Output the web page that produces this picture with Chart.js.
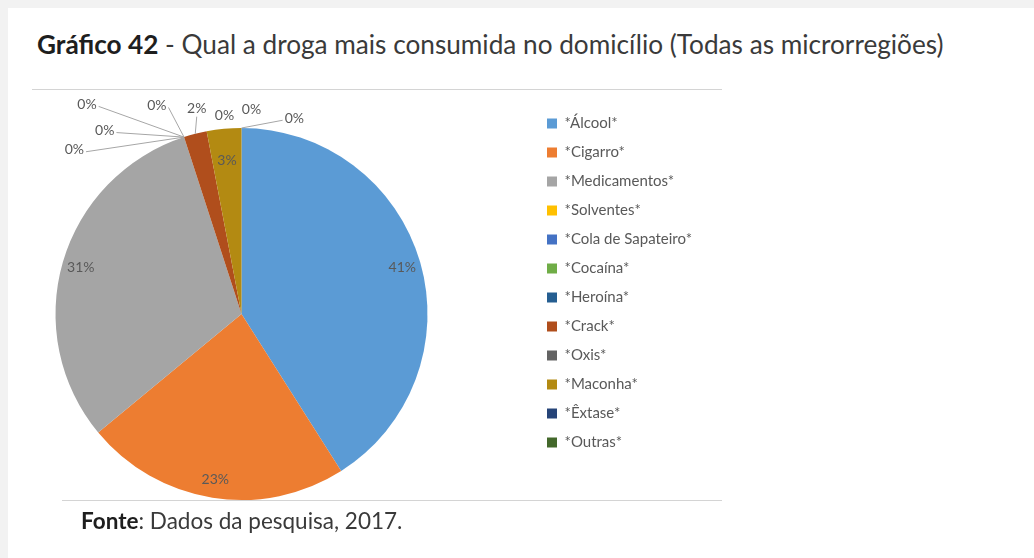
<!DOCTYPE html>
<html>
<head>
<meta charset="utf-8">
<script src="https://cdn.jsdelivr.net/npm/chart.js@4.4.0/dist/chart.umd.min.js"></script>
<style>
  body { margin: 0; background: #f2f2f2; width: 1034px; height: 558px; overflow: hidden; position: relative; font-family: Lato, "Open Sans", sans-serif; }
  #sheet { position: absolute; left: 8px; top: 8px; right: 0; bottom: 0; background: #fff; }
  #title { position: absolute; left: 37px; top: 29px; font-size: 26.2px; line-height: 30px; color: #3a3a3a; white-space: nowrap; }
  #title b { color: #1e1e1e; }
  .rule { position: absolute; height: 1px; background: #d4d4d4; }
  #fonte { position: absolute; left: 81px; top: 508px; font-size: 22.5px; line-height: 26px; color: #3a3a3a; white-space: nowrap; }
  #fonte b { color: #1e1e1e; }
  #wrap { position: absolute; left: -50px; top: 85px; }
</style>
</head>
<body>
<div id="sheet"></div>
<div id="title"><b>Gráfico 42</b> - Qual a droga mais consumida no domicílio (Todas as microrregiões)</div>
<div class="rule" style="left:32px; top:89px; width:690px;"></div>
<div class="rule" style="left:62px; top:500px; width:660px;"></div>
<div id="wrap"><canvas id="drugs-chart" width="752" height="441"></canvas></div>
<div id="fonte"><b>Fonte</b>: Dados da pesquisa, 2017.</div>

<script>
// categorias e percentuais
const categories = ['*Álcool*', '*Cigarro*', '*Medicamentos*', '*Solventes*', '*Cola de Sapateiro*', '*Cocaína*',
                    '*Heroína*', '*Crack*', '*Oxis*', '*Maconha*', '*Êxtase*', '*Outras*'];
const percentages = [41, 23, 31, 0, 0, 0, 0, 2, 0, 3, 0, 0];

const colors = ['#5b9bd5', '#ed7d31', '#a5a5a5', '#ffc000', '#4472c4', '#70ad47',
                '#255e91', '#b04e1c', '#636363', '#b38a12', '#264478', '#43682b'];

// onde fica cada rotulo externo: angulo (graus a partir do topo) e distancia em raios
const outsideLabels = {
  3: {a: -45.5, d: 1.26, line: true},
  4: {a: -36.7, d: 1.23, line: true},
  5: {a: -36.4, d: 1.40, line: true},
  6: {a: -22.1, d: 1.21, line: true},
  7: {a: -12.3, d: 1.13, line: true},
  8: {a: -4.9,  d: 1.07, line: false},
  10: {a: 2.8,  d: 1.10, line: false},
  11: {a: 15.1, d: 1.09, line: true}
};

const sliceLabels = {
  id: 'sliceLabels',
  afterDatasetsDraw(chart) {
    const ctx = chart.ctx;
    const meta = chart.getDatasetMeta(0);
    const total = percentages.reduce((s, v) => s + v, 0);
    ctx.save();
    ctx.font = '14px Lato';
    ctx.fillStyle = '#595959';
    ctx.strokeStyle = '#a6a6a6';
    ctx.lineWidth = 1;
    ctx.textAlign = 'center';
    ctx.textBaseline = 'middle';
    meta.data.forEach((arc, i) => {
      const txt = Math.round(percentages[i] / total * 100) + '%';
      const r = arc.outerRadius;
      const mid = (arc.startAngle + arc.endAngle) / 2;
      const spot = outsideLabels[i];
      if (!spot) {
        const k = percentages[i] < 5 ? 0.83 : 0.9;
        ctx.fillText(txt, arc.x + Math.cos(mid) * r * k, arc.y + Math.sin(mid) * r * k);
        return;
      }
      const th = -Math.PI / 2 + spot.a * Math.PI / 180;
      const lx = arc.x + Math.cos(th) * r * spot.d;
      const ly = arc.y + Math.sin(th) * r * spot.d;
      ctx.fillText(txt, lx, ly);
      if (spot.line) {
        const px = arc.x + Math.cos(mid) * r;
        const py = arc.y + Math.sin(mid) * r;
        const hw = ctx.measureText(txt).width / 2 + 2;
        let ex, ey;
        if (px > lx + hw) { ex = lx + hw; ey = ly + 2; }
        else if (px < lx - hw) { ex = lx - hw; ey = ly + 2; }
        else { ex = lx; ey = ly + 8; }
        ctx.beginPath();
        ctx.moveTo(ex, ey);
        ctx.lineTo(px, py);
        ctx.stroke();
      }
    });
    ctx.restore();
  }
};

new Chart(document.getElementById('drugs-chart'), {
  type: 'pie',
  data: {
    labels: categories,
    datasets: [{
      data: percentages,
      backgroundColor: colors,
      borderWidth: 0,
      radius: 186
    }]
  },
  options: {
    responsive: false,
    animation: false,
    layout: { padding: { top: 17 } },
    plugins: {
      tooltip: { enabled: false },
      legend: {
        position: 'right',
        align: 'start',
        labels: {
          boxWidth: 10,
          boxHeight: 10,
          padding: 14,
          color: '#595959',
          font: { family: 'Lato', size: 15 }
        }
      }
    }
  },
  plugins: [sliceLabels]
});
</script>
</body>
</html>
